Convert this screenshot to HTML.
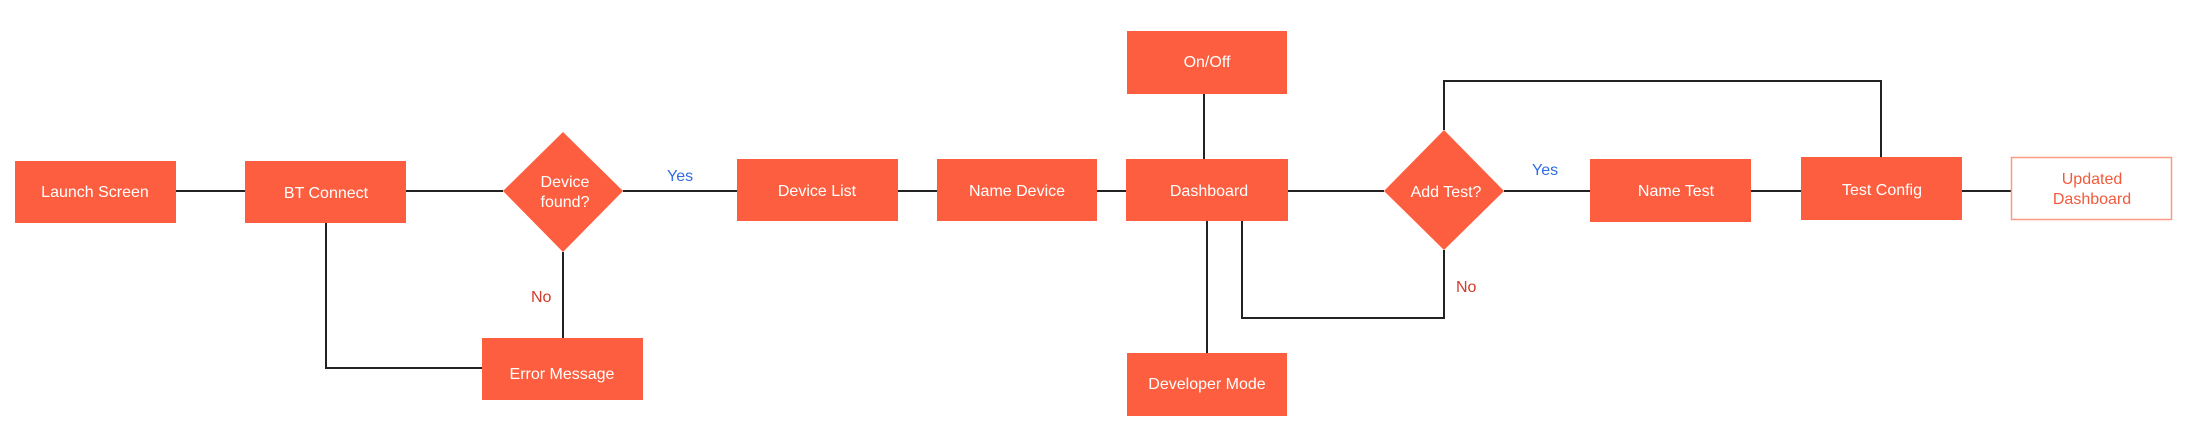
<!DOCTYPE html>
<html><head><meta charset="utf-8"><style>
html,body{margin:0;padding:0;background:#fff;}
body{width:2196px;height:438px;overflow:hidden;}
</style></head><body>
<svg width="2196" height="438" viewBox="0 0 2196 438" xmlns="http://www.w3.org/2000/svg" font-family="Liberation Sans, sans-serif">
<g stroke="#222" stroke-width="2" fill="none">
<line x1="176" y1="191" x2="245" y2="191"/>
<line x1="406" y1="191" x2="503" y2="191"/>
<line x1="623" y1="191" x2="737" y2="191"/>
<line x1="898" y1="191" x2="937" y2="191"/>
<line x1="1097" y1="191" x2="1126" y2="191"/>
<line x1="1288" y1="191" x2="1384" y2="191"/>
<line x1="1504" y1="191" x2="1590" y2="191"/>
<line x1="1751" y1="191" x2="1801" y2="191"/>
<line x1="1962" y1="191" x2="2011" y2="191"/>
<polyline points="326,222 326,368 482,368"/>
<line x1="563" y1="252" x2="563" y2="338"/>
<line x1="1204" y1="94" x2="1204" y2="159"/>
<line x1="1207" y1="221" x2="1207" y2="353"/>
<polyline points="1242,221 1242,318 1444,318 1444,250"/>
<polyline points="1444,130 1444,81 1881,81 1881,157"/>
</g>
<g fill="#fd5e3f">
<rect x="15" y="161" width="161" height="62"/>
<rect x="245" y="161" width="161" height="62"/>
<polygon points="563,132 623,191 563,252 503,191"/>
<rect x="482" y="338" width="161" height="62"/>
<rect x="737" y="159" width="161" height="62"/>
<rect x="937" y="159" width="160" height="62"/>
<rect x="1126" y="159" width="162" height="62"/>
<rect x="1127" y="31" width="160" height="63"/>
<rect x="1127" y="353" width="160" height="63"/>
<polygon points="1444,130 1504,191 1444,250 1384,191"/>
<rect x="1590" y="159" width="161" height="63"/>
<rect x="1801" y="157" width="161" height="63"/>
</g>
<rect x="2011.5" y="157.5" width="160" height="62" fill="#fff" stroke="#fc9b86" stroke-width="1.5"/>
<g fill="#fff" font-size="16" text-anchor="middle">
<text x="95" y="197">Launch Screen</text>
<text x="326" y="198">BT Connect</text>
<text x="565" y="187">Device</text>
<text x="565" y="207">found?</text>
<text x="562" y="379">Error Message</text>
<text x="817" y="196">Device List</text>
<text x="1017" y="196">Name Device</text>
<text x="1209" y="196">Dashboard</text>
<text x="1207" y="67">On/Off</text>
<text x="1207" y="389">Developer Mode</text>
<text x="1446" y="197">Add Test?</text>
<text x="1676" y="196">Name Test</text>
<text x="1882" y="195">Test Config</text>
</g>
<g fill="#f25a3c" font-size="16" text-anchor="middle">
<text x="2092" y="184">Updated</text>
<text x="2092" y="204">Dashboard</text>
</g>
<g font-size="16">
<text x="667" y="181" fill="#2f6de1">Yes</text>
<text x="1532" y="175" fill="#2f6de1">Yes</text>
<text x="531" y="302" fill="#d23a2a">No</text>
<text x="1456" y="292" fill="#d23a2a">No</text>
</g>
</svg>
</body></html>
